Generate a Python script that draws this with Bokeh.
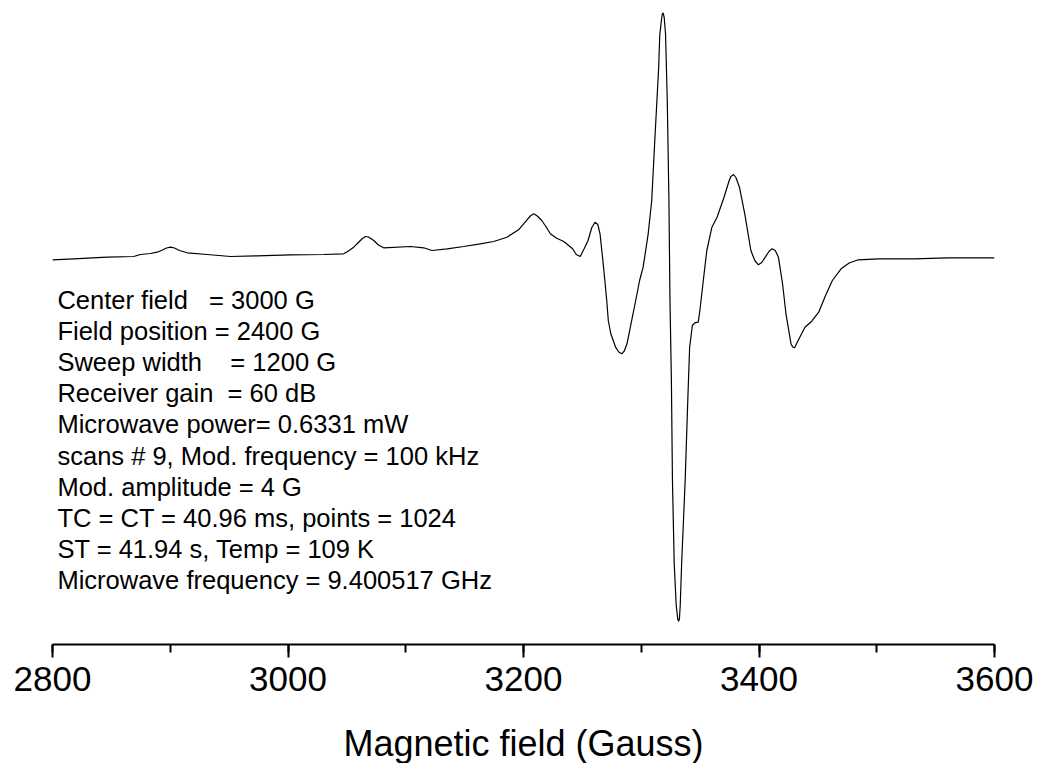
from bokeh.plotting import figure
from bokeh.models import Range1d, SingleIntervalTicker, Label
from bokeh.embed import file_html
from bokeh.resources import INLINE

# EPR spectrum (arbitrary intensity units)
field_gauss = [2800.0, 2818.1, 2846.4, 2869.0, 2874.7, 2883.2, 2888.9, 2893.4, 2896.8, 2900.2,
               2903.6, 2907.8, 2914.3, 2931.3, 2951.1, 2973.8, 3002.0, 3030.3, 3047.3, 3051.3,
               3055.8, 3059.8, 3063.2, 3065.7, 3068.3, 3072.8, 3076.8, 3081.2, 3103.9, 3115.2,
               3122.3, 3135.1, 3149.2, 3163.3, 3174.6, 3186.0, 3195.8, 3203.0, 3205.8, 3208.7,
               3211.7, 3215.5, 3219.0, 3222.8, 3227.8, 3234.2, 3241.7, 3244.8, 3248.2, 3251.6,
               3254.8, 3258.0, 3260.8, 3263.1, 3265.0, 3268.0, 3270.7, 3272.0, 3274.1, 3278.2,
               3280.9, 3283.4, 3285.6, 3287.9, 3291.3, 3295.3, 3298.6, 3301.6, 3305.9, 3308.9,
               3311.8, 3314.8, 3315.7, 3317.1, 3317.8, 3318.6, 3319.5, 3320.6, 3322.1, 3323.5,
               3324.4, 3325.6, 3326.5, 3328.0, 3329.7, 3331.0, 3331.7, 3332.4, 3333.1, 3334.3,
               3337.3, 3339.6, 3341.1, 3343.4, 3345.4, 3348.4, 3349.8, 3352.7, 3355.7, 3360.0,
               3364.4, 3370.3, 3374.7, 3376.1, 3378.4, 3380.4, 3383.4, 3387.9, 3393.1, 3396.4,
               3399.5, 3402.3, 3405.3, 3408.7, 3411.2, 3413.8, 3416.5, 3420.0, 3422.9, 3427.2,
               3428.6, 3430.2, 3434.0, 3439.0, 3444.8, 3450.7, 3456.5, 3462.3, 3469.7, 3476.6,
               3484.3, 3501.8, 3531.1, 3560.3, 3600.0]
intensity = [-1.3, -0.3, 1.3, 2.0, 4.0, 5.0, 6.3, 8.5, 10.5, 11.3,
             10.5, 8.0, 5.7, 4.0, 2.0, 2.7, 3.7, 4.0, 4.7, 7.5,
             11.3, 16.0, 20.0, 22.0, 21.5, 18.0, 13.5, 10.7, 12.0, 10.7,
             8.0, 9.7, 12.0, 14.7, 17.0, 21.3, 28.7, 38.7, 42.5, 44.7,
             42.5, 38.0, 32.0, 24.7, 20.5, 17.0, 9.7, 4.0, 2.0, 10.0,
             18.0, 31.0, 36.3, 34.0, 24.7, -8.7, -42.0, -62.0, -75.0, -88.7,
             -93.5, -95.3, -92.5, -85.3, -65.3, -42.0, -22.0, -8.7, 24.7, 58.0,
             124.7, 191.3, 223.0, 238.0, 244.0, 245.7, 241.0, 224.7, 158.0, 58.0,
             -42.0, -122.0, -222.0, -305.3, -347.0, -360.5, -362.7, -360.5, -347.0, -305.3,
             -222.0, -138.7, -88.7, -67.0, -64.3, -63.7, -52.0, -22.0, 8.0, 31.3,
             41.3, 61.3, 78.0, 82.0, 84.0, 81.0, 71.3, 44.7, 8.0, -2.0,
             -6.3, -4.0, 1.3, 7.5, 9.7, 8.0, 1.3, -25.3, -55.3, -85.3,
             -88.5, -89.3, -80.3, -68.7, -62.7, -53.7, -37.0, -22.0, -10.3, -4.5,
             -1.3, -0.3, -0.3, 0.7, 0.7]

info_lines = [
    "Center field   = 3000 G",
    "Field position = 2400 G",
    "Sweep width    = 1200 G",
    "Receiver gain  = 60 dB",
    "Microwave power= 0.6331 mW",
    "scans # 9, Mod. frequency = 100 kHz",
    "Mod. amplitude = 4 G",
    "TC = CT = 40.96 ms, points = 1024",
    "ST = 41.94 s, Temp = 109 K",
    "Microwave frequency = 9.400517 GHz",
]
x_label = "Magnetic field (Gauss)"

FONT = "Liberation Sans"

p = figure(frame_width=942, frame_height=636,
           min_border_left=52, min_border_right=47, min_border_top=8, min_border_bottom=100,
           x_range=Range1d(2800, 3600), y_range=Range1d(-386, 250),
           output_backend="svg", toolbar_location=None, y_axis_location=None,
           background_fill_color="white", border_fill_color="white")
p.outline_line_color = None
p.grid.visible = False

p.line(field_gauss, intensity, line_color="black", line_width=1.2)

ax = p.xaxis[0]
ax.ticker = SingleIntervalTicker(interval=200, num_minor_ticks=2)
ax.axis_line_width = 2
ax.axis_line_color = "black"
ax.major_tick_line_width = 2
ax.minor_tick_line_width = 2
ax.major_tick_line_color = "black"
ax.minor_tick_line_color = "black"
ax.major_tick_in = 0
ax.major_tick_out = 13
ax.minor_tick_in = 0
ax.minor_tick_out = 8
ax.major_label_standoff = 9
ax.major_label_text_font = FONT
ax.major_label_text_font_size = "35px"
ax.major_label_text_color = "black"
ax.axis_label = x_label
ax.axis_label_standoff = 29
ax.axis_label_text_font = FONT
ax.axis_label_text_font_size = "36px"
ax.axis_label_text_font_style = "normal"
ax.axis_label_text_color = "black"

for i, line in enumerate(info_lines):
    txt = line.replace("  ", " \u00a0").replace("\u00a0 ", "\u00a0\u00a0")
    p.add_layout(Label(x=2804.2, y=258 - (299 + 31.2 * i), text=txt, text_align="left",
                       text_baseline="alphabetic", text_font=FONT, text_font_size="25.5px",
                       text_color="black"))

open("out.html", "w").write(file_html(p, INLINE))
